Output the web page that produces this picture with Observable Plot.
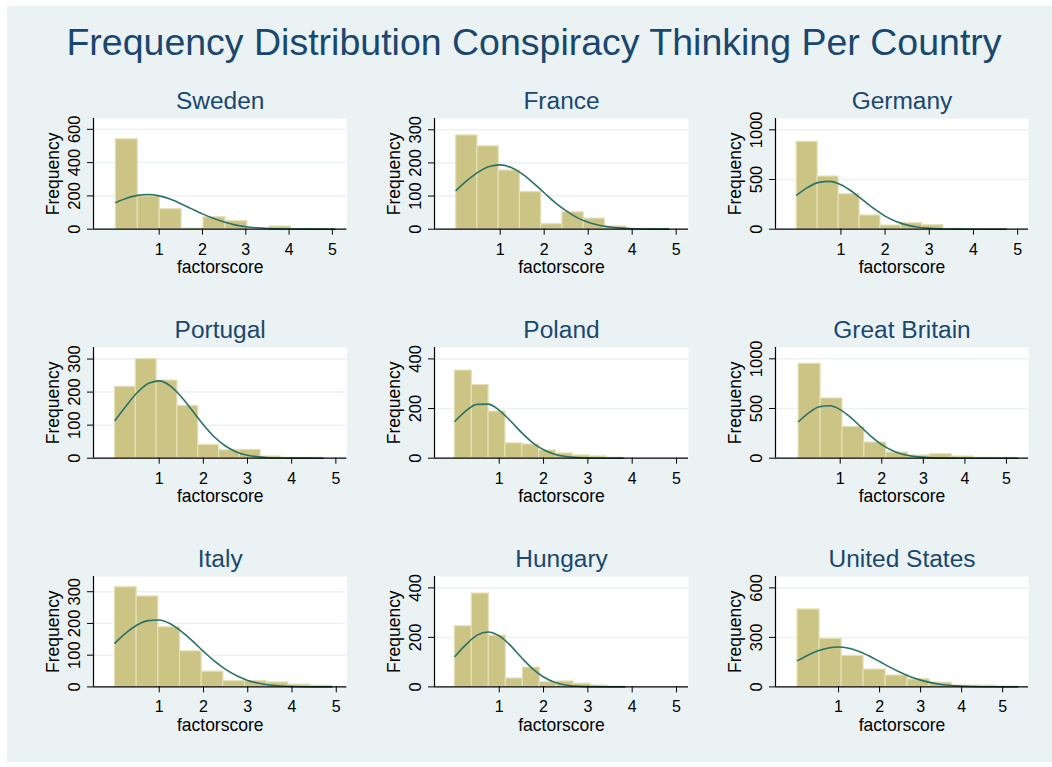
<!DOCTYPE html>
<html>
<head>
<meta charset="utf-8">
<script src="https://cdn.jsdelivr.net/npm/d3@7"></script>
<script src="https://cdn.jsdelivr.net/npm/@observablehq/plot@0.6"></script>
<style>
  body { margin: 0; background: #fff; }
  #chart { position: relative; width: 1052px; height: 767px; background: #fff; overflow: hidden;
           font-family: "Liberation Sans", Arial, sans-serif; }
  #bg { position: absolute; left: 7px; top: 6px; width: 1045px; height: 756px; background: #EAF2F3; }
  #title { position: absolute; left: 0; top: 24px; width: 1068px; text-align: center;
           font-size: 37.5px; line-height: 37.5px; color: #1A476F; white-space: nowrap; }
  .panel { position: absolute; }
</style>
</head>
<body>
<div id="chart">
  <div id="bg"></div>
  <div id="title">Frequency Distribution Conspiracy Thinking Per Country</div>
</div>
<script>
// ---------- data ----------
const mainTitle = "Frequency Distribution Conspiracy Thinking Per Country";
const countries = ["Sweden", "France", "Germany", "Portugal", "Poland", "Great Britain", "Italy", "Hungary", "United States"];
const xLabel = "factorscore";
const yLabel = "Frequency";
const xTicks = [1, 2, 3, 4, 5];

// histogram bin widths (bins start at 0), 10 bins each
const binWidths = [0.506, 0.483, 0.474, 0.471, 0.38, 0.527, 0.49, 0.383, 0.537];

const swedenCounts   = [540, 198, 120, 3, 72, 48, 0, 16, 2, 1];
const franceCounts   = [283, 250, 177, 112, 15, 51, 32, 8, 1, 1];
const germanyCounts  = [879, 530, 352, 138, 37, 60, 40, 3, 2, 1];
const portugalCounts = [216, 300, 235, 158, 40, 24, 25, 5, 1, 1];
const polandCounts   = [353, 295, 188, 60, 55, 31, 19, 11, 7, 2];
const britainCounts  = [950, 601, 315, 158, 57, 27, 40, 17, 3, 2];
const italyCounts    = [314, 285, 188, 112, 48, 18, 18, 14, 7, 4];
const hungaryCounts  = [245, 377, 207, 34, 78, 19, 22, 13, 5, 1];
const usCounts       = [469, 291, 188, 105, 69, 46, 26, 8, 8, 1];

// overlaid normal density curves, points [factorscore, frequency]
const swedenCurve = [[0,161],[0.25,186],[0.5,203],[0.75,208],[1,200],[1.25,181],[1.5,153],[1.75,122],[2,92],[2.25,65],[2.5,43],[2.75,26],[3,15],[3.25,8.5],[3.5,4.4],[3.75,2.1],[4,1],[4.5,0.2],[5.06,0]];
const franceCurve = [[0,117],[0.25,147],[0.5,172],[0.75,189],[1,194],[1.25,186],[1.5,167],[1.75,140],[2,110],[2.25,80],[2.5,55],[2.75,35],[3,21],[3.25,12],[3.5,6.2],[3.75,3.1],[4,1.4],[4.5,0.24],[4.83,0.05]];
const germanyCurve = [[0,342],[0.25,421],[0.5,471],[0.75,481],[1,447],[1.25,379],[1.5,292],[1.75,206],[2,132],[2.25,77],[2.5,41],[2.75,20],[3,8.7],[3.25,3.5],[3.5,1.3],[4,0.13],[4.74,0]];
const portugalCurve = [[0,114],[0.25,158],[0.5,198],[0.75,226],[1,234],[1.25,219],[1.5,186],[1.75,144],[2,101],[2.25,64],[2.5,37],[2.75,19],[3,9],[3.25,3.9],[3.5,1.5],[4,0.17],[4.71,0]];
const polandCurve = [[0,149],[0.25,191],[0.5,217],[0.75,218],[1,193],[1.25,151],[1.5,104],[1.75,63],[2,34],[2.25,16],[2.5,6.7],[2.75,2.5],[3,0.8],[3.5,0.06],[3.8,0]];
const britainCurve = [[0,369],[0.25,459],[0.5,517],[0.75,528],[1,489],[1.25,411],[1.5,314],[1.75,217],[2,136],[2.25,77],[2.5,40],[2.75,19],[3,7.9],[3.25,3],[3.5,1.1],[4,0.1],[5.27,0]];
const italyCurve = [[0,138],[0.25,170],[0.5,195],[0.75,209],[1,211],[1.25,199],[1.5,175],[1.75,145],[2,112],[2.25,81],[2.5,55],[2.75,35],[3,20.5],[3.25,11.4],[3.5,5.9],[3.75,2.9],[4,1.3],[4.5,0.2],[4.9,0.03]];
const hungaryCurve = [[0,123],[0.25,171],[0.5,209],[0.75,222],[1,206],[1.25,168],[1.5,119],[1.75,74],[2,40],[2.25,19],[2.5,7.8],[2.75,2.8],[3,0.9],[3.5,0.06],[3.83,0]];
const usCurve = [[0,159],[0.25,192],[0.5,219],[0.75,236],[1,242],[1.25,234],[1.5,215],[1.75,187],[2,154],[2.25,120],[2.5,89],[2.75,62],[3,41],[3.25,26],[3.5,15],[3.75,8.6],[4,4.6],[4.25,2.3],[4.5,1.1],[5,0.2],[5.37,0]];

// axis ranges and y tick labels per panel
const xDomains = [[-0.517, 5.335], [-0.493, 5.28], [-0.48, 5.245], [-0.487, 5.25], [-0.46, 5.27], [-0.557, 5.53], [-0.485, 5.24], [-0.46, 5.27], [-0.537, 5.63]];
const yTops = [665, 334, 1114, 335, 446, 1114, 348, 446, 669];
const yTicks = [[0,200,400,600], [0,100,200,300], [0,500,1000], [0,100,200,300], [0,200,400], [0,500,1000], [0,100,200,300], [0,200,400], [0,300,600]];

// ---------- drawing ----------
const allCounts = [swedenCounts, franceCounts, germanyCounts, portugalCounts, polandCounts, britainCounts, italyCounts, hungaryCounts, usCounts];
const allCurves = [swedenCurve, franceCurve, germanyCurve, portugalCurve, polandCurve, britainCurve, italyCurve, hungaryCurve, usCurve];

const colL = [93.3, 434.3, 775.3], colR = [346.7, 688.3, 1028.3];
const rowT = [118.3, 347.3, 576.3], rowB = [229, 458, 686.7];
const mL = 70, mR = 15, mT = 40, mB = 50;
const navy = "#1A476F";
const font = "Liberation Sans, Arial, sans-serif";

const chart = document.getElementById("chart");

countries.forEach((name, i) => {
  const r = Math.floor(i / 3), c = i % 3;
  const w = colR[c] - colL[c] + mL + mR;
  const h = rowB[r] - rowT[r] + mT + mB;
  const bw = binWidths[i];
  const bars = allCounts[i].map((v, k) => ({x1: k * bw, x2: (k + 1) * bw, y: v}));
  const curve = allCurves[i].map(([x, y]) => ({x, y}));
  const svg = Plot.plot({
    width: w, height: h,
    marginLeft: mL, marginRight: mR, marginTop: mT, marginBottom: mB,
    style: {background: "transparent", fontFamily: font, color: "#000", overflow: "visible"},
    x: {domain: xDomains[i]},
    y: {domain: [0, yTops[i]]},
    marks: [
      Plot.frame({fill: "#ffffff", stroke: "none"}),
      Plot.gridY(yTicks[i].filter(v => v > 0), {stroke: "#EAF2F3", strokeOpacity: 1, strokeWidth: 1.5}),
      Plot.rectY(bars, {x1: "x1", x2: "x2", y: "y", fill: "#CCC484", stroke: "#E4E0B6", strokeWidth: 1.2}),
      Plot.line(curve, {x: "x", y: "y", stroke: "#2A7268", strokeWidth: 1.6, curve: "monotone-x"}),
      Plot.ruleY([0], {stroke: "#000", strokeWidth: 1.2}),
      Plot.ruleX([xDomains[i][0]], {stroke: "#000", strokeWidth: 1.2}),
      Plot.axisX(xTicks, {tickSize: 6, tickPadding: 8, fontSize: 16, label: null, tickFormat: d => String(d)}),
      Plot.axisY(yTicks[i], {tickSize: 6, tickPadding: 8, tickRotate: -90, fontSize: 16.5, label: null, tickFormat: d => String(d)}),
      Plot.text([xLabel], {frameAnchor: "bottom", dy: 38.7, lineAnchor: "middle", fontSize: 17.5, fill: "#000"}),
      Plot.text([yLabel], {frameAnchor: "left", dx: -40, rotate: -90, textAnchor: "middle", lineAnchor: "middle", fontSize: 17.5, fill: "#000"}),
      Plot.text([name], {frameAnchor: "top", dy: -17.3, lineAnchor: "middle", fontSize: 24.5, fill: navy})
    ]
  });
  svg.classList.add("panel");
  svg.style.left = (colL[c] - mL) + "px";
  svg.style.top = (rowT[r] - mT) + "px";
  chart.appendChild(svg);
});
</script>
</body>
</html>
